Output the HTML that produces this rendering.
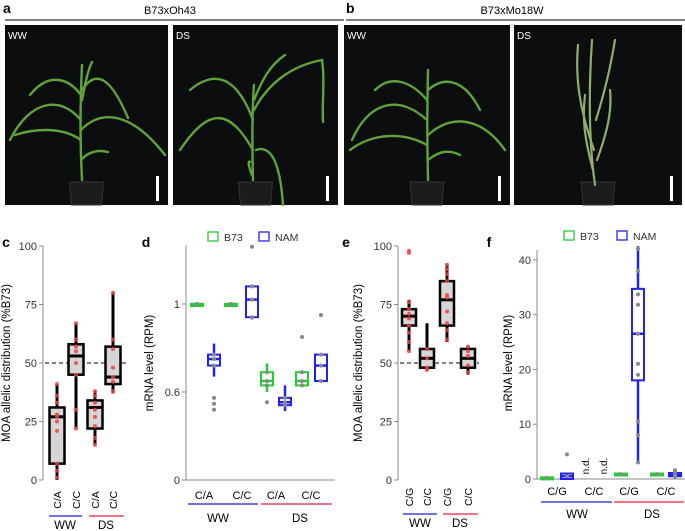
<!DOCTYPE html>
<html><head><meta charset="utf-8"><style>
body{margin:0;background:#fff;}
svg{display:block;font-family:"Liberation Sans",sans-serif;}
</style></head><body>
<svg id="fig" width="685" height="531" viewBox="0 0 685 531">
<g id="photos">
 <text x="3" y="13" font-size="14" font-weight="bold">a</text>
 <text x="170" y="14" font-size="11" text-anchor="middle">B73xOh43</text>
 <line x1="5" y1="20" x2="344" y2="20" stroke="#000" stroke-width="1"/>
 <text x="346" y="13" font-size="14" font-weight="bold">b</text>
 <text x="512" y="14" font-size="11" text-anchor="middle">B73xMo18W</text>
 <line x1="346" y1="20" x2="685" y2="20" stroke="#000" stroke-width="1"/>
</g>
<g id="charts"></g>
</svg>
<script>
const NS="http://www.w3.org/2000/svg";
function mk(parent,tag,attrs,text){const e=document.createElementNS(NS,tag);for(const k in attrs)e.setAttribute(k,attrs[k]);if(text!==undefined)e.textContent=text;parent.appendChild(e);return e;}
const photosG=document.getElementById('photos');
const charts=document.getElementById('charts');

// ---- photos ----
const photoX=[5,173,344,514];
const photoW=[163,165,166,168];
const photoLbl=['WW','DS','WW','DS'];
const leafSets=[
 ["M82,180 C80,140 80,110 82,65","M81,140 C60,125 30,130 15,135","M81,130 C100,110 130,110 165,155","M81,120 C60,95 30,100 10,140","M81,95 C70,80 50,70 30,95","M82,90 C95,70 110,75 128,118","M82,100 C86,80 88,70 92,62","M81,160 C90,150 100,150 108,152"],
 ["M253,180 C252,140 252,110 254,85","M253,150 C230,110 210,105 180,150","M253,120 C240,85 220,65 190,90","M254,110 C270,80 295,65 322,60 C325,80 322,100 323,122","M254,100 C262,80 270,65 285,55","M256,150 C270,145 280,160 283,205","M252,175 C248,165 248,160 250,162"],
 ["M428,180 C427,140 427,110 428,70","M427,145 C400,130 370,135 350,150","M428,135 C450,115 480,115 505,150","M427,120 C400,95 370,100 352,140","M427,100 C410,80 390,75 375,90","M428,90 C445,75 465,80 480,110","M428,160 C440,150 450,150 460,155"],
 ["M595,185 C590,150 588,100 592,40","M594,150 C580,110 575,80 578,45","M596,120 C605,90 610,70 615,40","M593,170 C585,140 582,120 585,95","M597,160 C608,130 612,110 610,90"]
];
for(let i=0;i<4;i++){
 const x=photoX[i],w=photoW[i];
 const r=mk(photosG,'rect',{x:x,y:25,width:w,height:180,fill:'#0c0d0e'});
 
 
 const cx=x+w/2;
 const pot=mk(photosG,'path',{d:`M${cx-17},182 L${cx+17},182 L${cx+15},205 L${cx-15},205 Z`,fill:'#1c1c1c',stroke:'#333','stroke-width':1});
 
 
 for(const d of leafSets[i]){
  const l=mk(photosG,'path',{d:d,fill:'none',stroke:i==3?'#8fae6a':'#5fa33a','stroke-width':i==3?2.2:2.4,'stroke-linecap':'round'});
  
  
 }
 const sb=mk(photosG,'rect',{x:x+w-12,y:176,width:3,height:25,fill:'#fff'});
 
 
 const t=mk(photosG,'text',{x:x+3,y:39,'font-size':10,fill:'#fff'},photoLbl[i]);
 
 
}

// ---- chart data ----
const cCats=['C/A','C/C','C/A','C/C'];
const cBoxes=[[0,7,27,31,41],[22,45,53,58,67],[15,22,31,34,38],[37,41,44,57,80]];
const cPts=[[41,36,33,28,27,25,21,7,4,1],[67,60,57,55,50,45,30,22],[38,36,33,30,27,23,18,15],[80,60,56,48,44,42,38]];
const eCats=['C/G','C/C','C/G','C/C'];
const eBoxes=[[55,66,70,73,77],[47,48,52,56,67],[59,66,77,85,92],[45,48,52,56,57]];
const ePts=[[98,97,76,73,71,69,66,63,59,55],[56,52,48,47],[92,90,88,85,79,78,72,67,64,60],[57,55,53,49,46]];
const pctTicks=[0,25,50,75,100];

const dCats=['C/A','C/C','C/A','C/C'];
const dB73=[[1,1,1,1,1],[1,1,1,1,1],[0.6,0.63,0.65,0.69,0.73],[0.63,0.63,0.65,0.69,0.69]];
const dNAM=[[0.67,0.72,0.75,0.77,0.82],[0.93,0.94,1.02,1.08,1.08],[0.47,0.51,0.53,0.56,0.63],[0.65,0.65,0.72,0.77,0.77]];
const dB73Out=[[],[],[0.53],[0.85]];
const dNAMOut=[[0.56,0.52,0.48],[1.26],[],[0.95]];
const dTicks=[0,0.6,1];

const fCats=['C/G','C/C','C/G','C/C'];
const fB73=[[0,0,0.2,0.3,0.3],null,[0.8,0.8,0.9,1,1],[0.8,0.8,0.9,1,1]];
const fNAM=[[0,0,0.5,1,1],null,[3,18,26.5,34.7,42.5],[0.4,0.5,0.8,1.1,1.6]];
const fNAMPts=[[4.5,0.5],[],[42,38,33.7,31.8,26.5,21,19,10.5,8,3],[1.6,1.2,0.8,0.4]];
const fTicks=[0,10,20,30,40];

// ---- scales ----
const yPct=v=>480-v*2.34;
const yD=v=>v<=0.6?480-v*146.7:392-(v-0.6)*220;
const yF=v=>479-v*5.48;

function axisY(x,top,bot,ticks,scale,name,fmt){
 const g=mk(charts,'g',{});
 
 
 mk(g,'line',{x1:x,y1:top,x2:x,y2:bot,stroke:'#888','stroke-width':1});
 for(const t of ticks){
  const y=scale(t);
  mk(g,'line',{x1:x-4,y1:y,x2:x,y2:y,stroke:'#888'});
  const tx=mk(g,'text',{x:x-6,y:y+4,'font-size':11,'text-anchor':'end',fill:'#333'},fmt?fmt(t):t);
  
  
 }
}
function ytitle(x,y,txt,name){
 const t=mk(charts,'text',{x:x,y:y,'font-size':11.5,'text-anchor':'middle',transform:`rotate(-90 ${x} ${y})`},txt);
 
 
}
function xbase(x1,x2,y){mk(charts,'line',{x1:x1,y1:y,x2:x2,y2:y,stroke:'#888'});}
function boxGray(cx,b,w,scale,pts){
 const g=mk(charts,'g',{});
 
 
 mk(g,'line',{x1:cx,y1:scale(b[0]),x2:cx,y2:scale(b[4]),stroke:'#000','stroke-width':3});
 mk(g,'rect',{x:cx-w/2,y:scale(b[3]),width:w,height:Math.max(scale(b[1])-scale(b[3]),1),fill:'#d6d6d6',stroke:'#000','stroke-width':2.5});
 mk(g,'line',{x1:cx-w/2,y1:scale(b[2]),x2:cx+w/2,y2:scale(b[2]),stroke:'#000','stroke-width':3});
 for(const p of pts){
  const c=mk(g,'circle',{cx:cx,cy:scale(p),r:2,fill:'#f04040',opacity:0.85});
  
  
 }
}
function boxColor(cx,b,w,scale,col,pts,name){
 const g=mk(charts,'g',{});
 
 
 mk(g,'line',{x1:cx,y1:scale(b[0]),x2:cx,y2:scale(b[4]),stroke:col,'stroke-width':2.5});
 const h=scale(b[1])-scale(b[3]);
 mk(g,'rect',{x:cx-w/2,y:scale(b[3]),width:w,height:Math.max(h,2),fill:'#fff',stroke:col,'stroke-width':2});
 mk(g,'line',{x1:cx-w/2,y1:scale(b[2]),x2:cx+w/2,y2:scale(b[2]),stroke:col,'stroke-width':2.5});
 for(const p of pts){
  const c=mk(g,'circle',{cx:cx,cy:scale(p),r:2,fill:'#888'});
  
  
 }
}
function label(x,y,t,size,name,extra){
 const e=mk(charts,'text',Object.assign({x:x,y:y,'font-size':size,'text-anchor':'middle'},extra||{}),t);
 
 
 return e;
}
function grpLines(y,b1,b2,r1,r2,ty,wwx,dsx){
 const l1=mk(charts,'line',{x1:b1,y1:y,x2:b2,y2:y,stroke:'#4444dd','stroke-width':1.5});
 
 
 const l2=mk(charts,'line',{x1:r1,y1:y,x2:r2,y2:y,stroke:'#ee4466','stroke-width':1.5});
 
 
 label(wwx,ty,'WW',11.5,'group-label-ww');
 label(dsx,ty,'DS',11.5,'group-label-ds');
}
function legend(gx,bx,y){
 const a=mk(charts,'rect',{x:gx,y:y,width:10,height:9,fill:'none',stroke:'#22cc33','stroke-width':1.3});
 
 const t1=mk(charts,'text',{x:gx+16,y:y+9,'font-size':10.5,fill:'#333'},'B73');
 
 const b=mk(charts,'rect',{x:bx,y:y,width:10,height:9,fill:'none',stroke:'#2222ee','stroke-width':1.3});
 
 const t2=mk(charts,'text',{x:bx+16,y:y+9,'font-size':10.5,fill:'#333'},'NAM');
 
}

// ---- panel c ----
label(6,247,'c',14,'panel-label-c',{'font-weight':'bold'});
axisY(43,246,480,pctTicks,yPct,'y-axis-c');
ytitle(10,363,'MOA allelic distribution (%B73)','y-axis-title-c');
const cX=[57,76,95,113];
mk(charts,'line',{x1:45,y1:yPct(50),x2:128,y2:yPct(50),stroke:'#000','stroke-dasharray':'4,3'});
cBoxes.forEach((b,i)=>boxGray(cX[i],b,15,yPct,cPts[i]));
cCats.forEach((c,i)=>label(cX[i]+4,500,c,10.5,'x-tick-label',{transform:`rotate(-90 ${cX[i]+4} 500)`}));
grpLines(516,49,82,89,124,529,65,106);

// ---- panel d ----
label(146,247,'d',14,'panel-label-d',{'font-weight':'bold'});
legend(208,259,232);
axisY(186,245,480,dTicks,yD,'y-axis-d',t=>t===0?'0':(t===1?'1':t));
ytitle(153,363,'mRNA level (RPM)','y-axis-title-d');
xbase(186,335,480);
const dG=[197,231,267,302], dN=[214,252,285,321], dL=[204,242,276,311];
dB73.forEach((b,i)=>boxColor(dG[i],b,12,yD,'#22cc33',dB73Out[i].concat(b[1]===b[3]?[1,1,1]:[b[1],b[2],b[3]]),'box-b73'));
dNAM.forEach((b,i)=>boxColor(dN[i],b,12,yD,'#2222ee',dNAMOut[i].concat([b[1],b[2],b[3]]),'box-nam'));
dCats.forEach((c,i)=>label(dL[i],499,c,11,'x-tick-label'));
grpLines(504,188,258,261,332,522,218,300);

// ---- panel e ----
label(346,247,'e',14,'panel-label-e',{'font-weight':'bold'});
axisY(398,246,480,pctTicks,yPct,'y-axis-e');
ytitle(362,363,'MOA allelic distribution (%B73)','y-axis-title-e');
const eX=[409,427,447,468];
mk(charts,'line',{x1:400,y1:yPct(50),x2:479,y2:yPct(50),stroke:'#000','stroke-dasharray':'4,3'});
eBoxes.forEach((b,i)=>boxGray(eX[i],b,14,yPct,ePts[i]));
eCats.forEach((c,i)=>label(eX[i]+4,497,c,10.5,'x-tick-label',{transform:`rotate(-90 ${eX[i]+4} 497)`}));
grpLines(514,403,437,443,478,527,420,460);

// ---- panel f ----
label(489,247,'f',14,'panel-label-f',{'font-weight':'bold'});
legend(564,617,231);
axisY(537,250,479,fTicks,yF,'y-axis-f');
ytitle(512,363,'mRNA level (RPM)','y-axis-title-f');
xbase(537,685,479);
const fG=[547,585,621,657], fN=[567,603,638,675], fL=[557,594,629,666];
fB73.forEach((b,i)=>{if(b)boxColor(fG[i],b,12,yF,'#22cc33',[b[2]],'box-b73');});
fNAM.forEach((b,i)=>{if(b)boxColor(fN[i],b,12,yF,'#2222ee',fNAMPts[i],'box-nam');});
[585,603].forEach(x=>label(x+4,466,'n.d.',10,'not-detected-label',{transform:`rotate(-90 ${x+4} 466)`}));
fCats.forEach((c,i)=>label(fL[i],495,c,11,'x-tick-label'));
grpLines(502,541,612,614,684,518,577,652);
</script>
</body></html>
